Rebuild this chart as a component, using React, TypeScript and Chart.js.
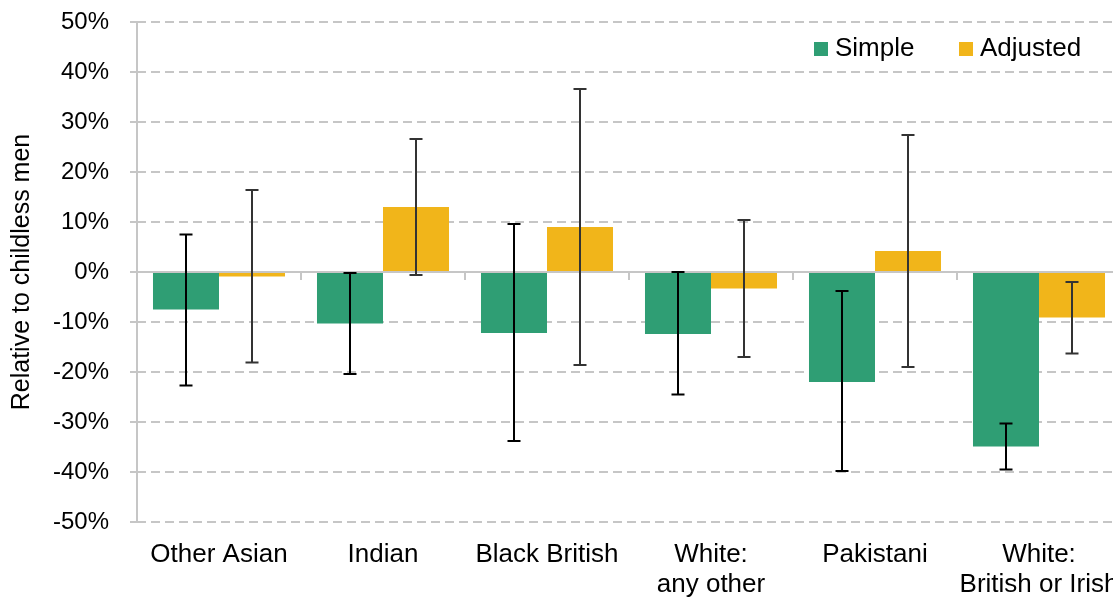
import React, { useEffect, useRef } from "react";
import { Chart, registerables } from "chart.js";

Chart.register(...registerables);

const categories: string[][] = [
  ["Other Asian"],
  ["Indian"],
  ["Black British"],
  ["White:", "any other"],
  ["Pakistani"],
  ["White:", "British or Irish"],
];

const simpleValues = [-7.5, -10.3, -12.2, -12.4, -22.0, -34.9];
const simpleHigh = [7.5, -0.2, 9.6, 0.0, -3.8, -30.3];
const simpleLow = [-22.7, -20.4, -33.8, -24.5, -39.8, -39.5];

const adjustedValues = [-0.9, 13.0, 9.0, -3.3, 4.2, -9.1];
const adjustedHigh = [16.4, 26.6, 36.6, 10.4, 27.4, -2.0];
const adjustedLow = [-18.1, -0.6, -18.6, -17.0, -19.0, -16.3];

const yTicks = [-50, -40, -30, -20, -10, 0, 10, 20, 30, 40, 50];

const GREEN = "#2f9e74";
const YELLOW = "#f1b51a";
const GRID = "#c6c6c6";
const FONT = "'Liberation Sans', Arial, sans-serif";

const errorBars = [
  { high: simpleHigh, low: simpleLow, color: "#000000" },
  { high: adjustedHigh, low: adjustedLow, color: "#333333" },
];

const overlayPlugin = {
  id: "overlay",
  afterDatasetsDraw(chart: any) {
    const { ctx, chartArea, scales } = chart;
    const xs = scales.x;
    const ys = scales.y;
    const y0 = Math.round(ys.getPixelForValue(0));
    ctx.save();
    ctx.strokeStyle = GRID;
    ctx.lineWidth = 2;
    ctx.setLineDash([]);
    ctx.beginPath();
    ctx.moveTo(chartArea.left, chartArea.top);
    ctx.lineTo(chartArea.left, chartArea.bottom);
    ctx.stroke();
    ctx.beginPath();
    ctx.moveTo(chartArea.left, y0);
    ctx.lineTo(chartArea.right, y0);
    ctx.stroke();
    const half = (xs.getPixelForValue(1) - xs.getPixelForValue(0)) / 2;
    for (let j = 0; j < categories.length; j++) {
      const bx = Math.round(xs.getPixelForValue(j) + half);
      ctx.beginPath();
      ctx.moveTo(bx, y0);
      ctx.lineTo(bx, y0 + 8);
      ctx.stroke();
    }
    errorBars.forEach((eb, di) => {
      const meta = chart.getDatasetMeta(di);
      ctx.strokeStyle = eb.color;
      ctx.lineWidth = 2;
      meta.data.forEach((el: any, j: number) => {
        const x = Math.round(el.x);
        const yh = ys.getPixelForValue(eb.high[j]);
        const yl = ys.getPixelForValue(eb.low[j]);
        ctx.beginPath();
        ctx.moveTo(x, yh);
        ctx.lineTo(x, yl);
        ctx.moveTo(x - 6.5, yh);
        ctx.lineTo(x + 6.5, yh);
        ctx.moveTo(x - 6.5, yl);
        ctx.lineTo(x + 6.5, yl);
        ctx.stroke();
      });
    });
    const items = [
      { label: "Simple", color: GREEN, x: chartArea.left + 677 },
      { label: "Adjusted", color: YELLOW, x: chartArea.left + 822 },
    ];
    ctx.font = `26px ${FONT}`;
    ctx.textBaseline = "middle";
    ctx.textAlign = "left";
    items.forEach((it) => {
      ctx.fillStyle = it.color;
      ctx.fillRect(it.x, chartArea.top + 20, 14, 14);
      ctx.fillStyle = "#000";
      ctx.fillText(it.label, it.x + 21, chartArea.top + 27);
    });
    ctx.restore();
  },
};

export default function App() {
  const ref = useRef<HTMLCanvasElement>(null);
  useEffect(() => {
    if (!ref.current) return;
    const chart = new Chart(ref.current, {
      type: "bar",
      data: {
        labels: categories,
        datasets: [
          {
            label: "Simple",
            data: simpleValues,
            backgroundColor: GREEN,
            categoryPercentage: 0.805,
            barPercentage: 1.0,
          },
          {
            label: "Adjusted",
            data: adjustedValues,
            backgroundColor: YELLOW,
            categoryPercentage: 0.805,
            barPercentage: 1.0,
          },
        ],
      },
      options: {
        responsive: false,
        animation: false,
        layout: { padding: { top: 22, right: 0, bottom: 0, left: 0 } },
        plugins: {
          legend: { display: false },
          tooltip: { enabled: false },
        },
        scales: {
          x: {
            grid: { display: false, drawTicks: false },
            border: { display: false },
            ticks: {
              font: { family: FONT, size: 26, lineHeight: 1.15 },
              color: "#000",
              padding: 18,
              maxRotation: 0,
              autoSkip: false,
            },
            afterFit(scale: any) {
              scale.height = 76;
              scale.paddingLeft = 0;
              scale.paddingRight = 0;
            },
          },
          y: {
            min: -50,
            max: 50,
            afterBuildTicks(scale: any) {
              scale.ticks = yTicks.map((v) => ({ value: v }));
            },
            ticks: {
              font: { family: FONT, size: 24 },
              color: "#000",
              padding: 21,
              callback: (v: any) => `${v}%`,
            },
            grid: {
              color: GRID,
              lineWidth: 2,
              tickLength: 7,
              tickColor: GRID,
              drawTicks: true,
            },
            border: { display: false, dash: [9, 5] },
            title: {
              display: true,
              text: "Relative to childless men",
              font: { family: FONT, size: 25 },
              color: "#000",
              padding: { top: 7, bottom: 0 },
            },
            afterFit(scale: any) {
              scale.width = 137;
              scale.paddingTop = 0;
              scale.paddingBottom = 0;
            },
          },
        },
      },
      plugins: [overlayPlugin],
    } as any);
    return () => chart.destroy();
  }, []);
  return (
    <div
      style={{
        position: "fixed",
        left: 0,
        top: 0,
        width: 1113,
        height: 598,
        overflow: "hidden",
        background: "#fff",
      }}
    >
      <canvas ref={ref} width={1121} height={598} style={{ display: "block" }} />
    </div>
  );
}
